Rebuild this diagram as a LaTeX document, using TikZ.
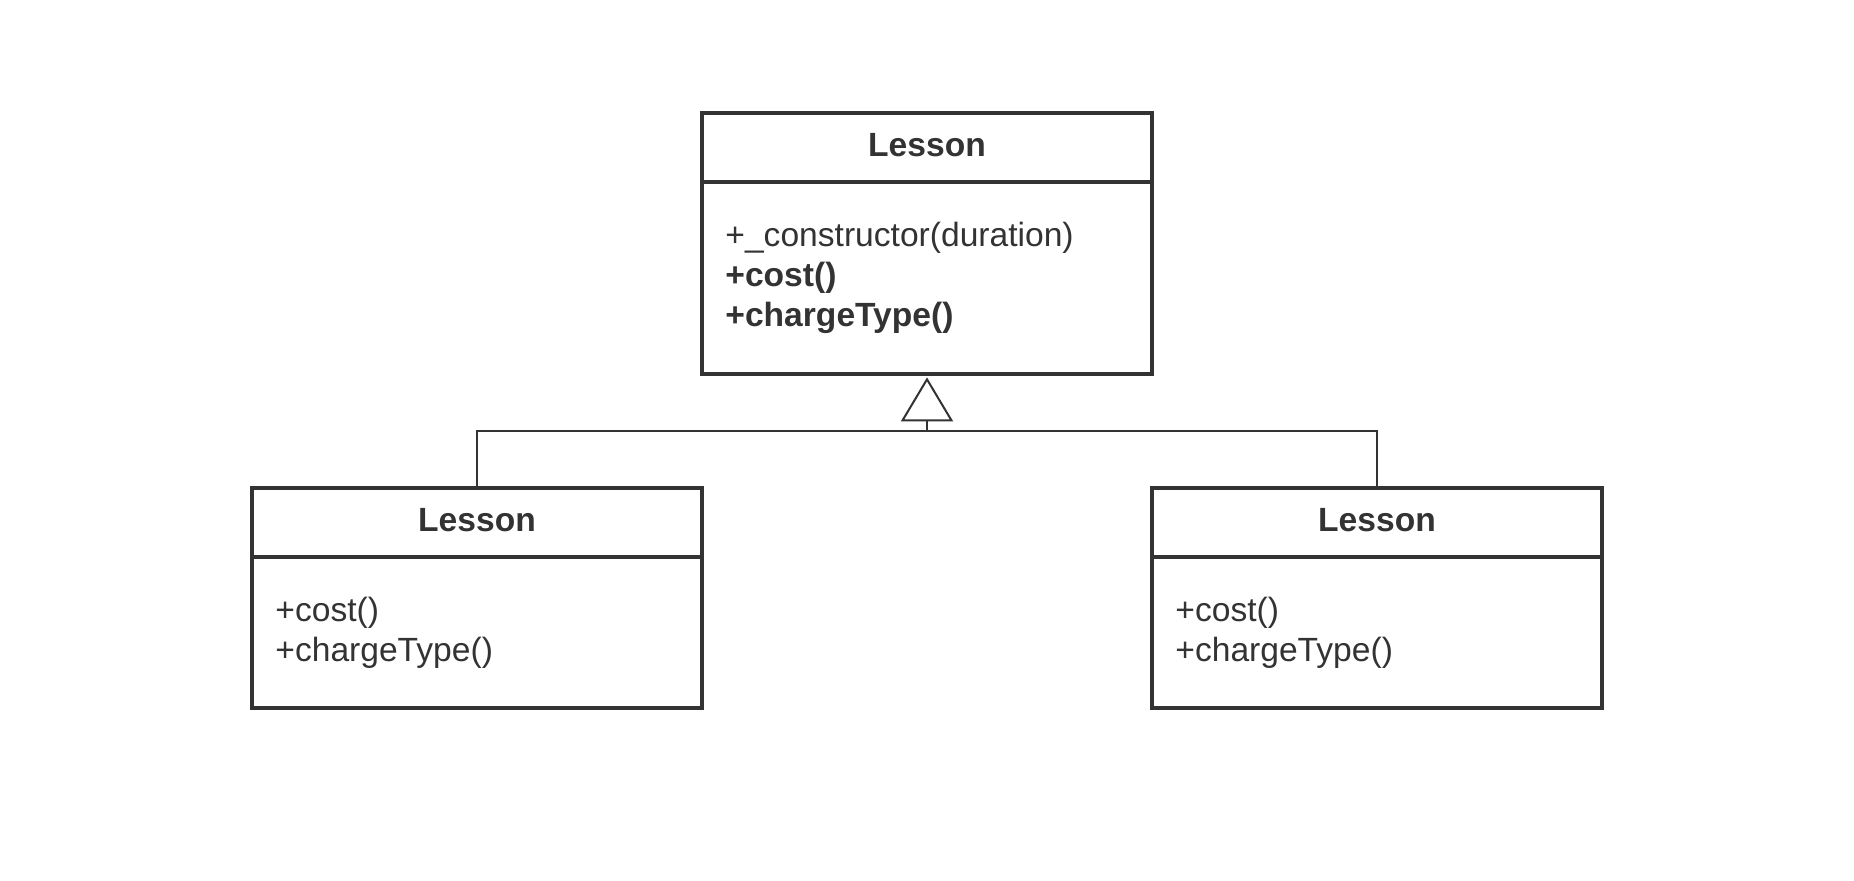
\documentclass[tikz,border=0pt]{standalone}
\usepackage{fontspec}
\setmainfont{Liberation Sans}
\usetikzlibrary{arrows.meta}
\definecolor{ink}{HTML}{333333}
\tikzset{
  classbox/.style={draw=ink, line width=1.7pt, rectangle, minimum width=225pt, inner sep=0pt},
  divider/.style={draw=ink, line width=1.7pt},
  title/.style={anchor=base, inner sep=0pt, text=ink, font=\fontsize{16.8pt}{20pt}\selectfont\bfseries},
  member/.style={anchor=base west, inner sep=0pt, text=ink, font=\fontsize{16.8pt}{20pt}\selectfont},
  bmember/.style={member, font=\fontsize{16.8pt}{20pt}\selectfont\bfseries},
  inherit/.style={draw=ink, line width=1pt, -{Triangle[open, length=22pt, width=26pt]}},
  link/.style={draw=ink, line width=1pt}
}
\begin{document}
\begin{tikzpicture}[x=0.5pt, y=-0.5pt]
\useasboundingbox (0,0) rectangle (1854,881);
% top class
\node[classbox, minimum height=130.5pt] (top) at (927,243.5) {};
\draw[divider] (702,182) -- (1152,182);
\node[title] (toptitle) at (927,156.5) {Lesson};
\node[member] (topm1) at (725,246.5) {+\_constructor(duration)};
\node[bmember] (topm2) at (725,286.5) {+cost()};
\node[bmember] (topm3) at (725,326.5) {+chargeType()};
% left class
\node[classbox, minimum height=110pt] (lb) at (477,598) {};
\draw[divider] (252,557) -- (702,557);
\node[title] (lbtitle) at (477,531.5) {Lesson};
\node[member] (lbm1) at (275,621.5) {+cost()};
\node[member] (lbm2) at (275,661.5) {+chargeType()};
% right class
\node[classbox, minimum height=110pt] (rb) at (1377,598) {};
\draw[divider] (1152,557) -- (1602,557);
\node[title] (rbtitle) at (1377,531.5) {Lesson};
\node[member] (rbm1) at (1175,621.5) {+cost()};
\node[member] (rbm2) at (1175,661.5) {+chargeType()};
% connectors
\coordinate (j) at (927,431);
\draw[inherit] (lb.north) |- (j) -- ([yshift=-0.85pt]top.south);
\draw[link] (rb.north) |- (j);
\end{tikzpicture}
\end{document}
